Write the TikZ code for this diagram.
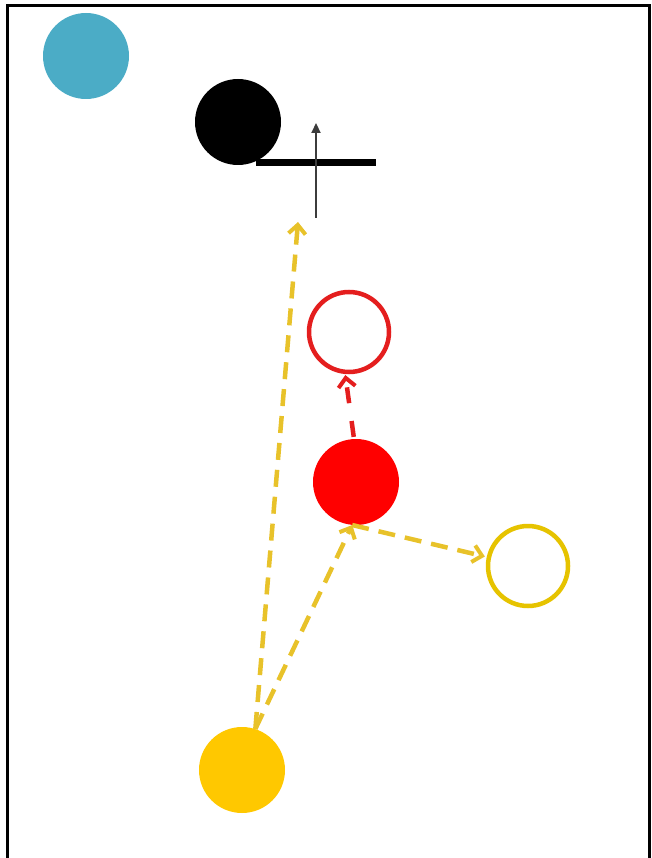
\documentclass[tikz,border=0pt]{standalone}
\usetikzlibrary{arrows.meta}
\definecolor{cblue}{HTML}{4BACC6}
\definecolor{cyellow}{HTML}{FFC800}
\definecolor{cyline}{HTML}{E8C22A}
\definecolor{cyopen}{HTML}{E6C300}
\definecolor{cred}{HTML}{FF0000}
\definecolor{credline}{HTML}{E41E1E}
\definecolor{cgray}{HTML}{3C3C3C}
\tikzset{
  dot/.style={circle, minimum size=86pt, inner sep=0pt, draw=none},
  ring/.style={circle, minimum size=80pt, inner sep=0pt, line width=4.5pt, fill=white},
  yarrow/.style={cyline, line width=4.5pt, dash pattern=on 17pt off 10pt, -{Straight Barb[length=9pt,width=17pt,line width=4pt]}},
  rarrow/.style={credline, line width=4.5pt, dash pattern=on 16pt off 18pt, -{Straight Barb[length=9pt,width=17pt,line width=4pt]}},
  garrow/.style={cgray, line width=2.2pt, -{Triangle[length=10pt,width=9pt]}},
}
\begin{document}
\begin{tikzpicture}[x=1pt,y=-1pt]
\useasboundingbox (0,0) rectangle (652,858);
\clip (0,0) rectangle (652,858);
\draw[line width=3pt] (7,880) -- (7,6) -- (649,6) -- (649,880);
% circles
\node[dot, fill=cblue] (blue) at (86,56) {};
\node[dot, fill=black] (blk) at (238,122) {};
\node[ring, draw=credline] (ro) at (349,332) {};
\node[dot, fill=cred] (rf) at (356,482) {};
\node[ring, draw=cyopen] (yo) at (528,566) {};
\node[dot, fill=cyellow] (yf) at (242,770) {};
% black bar and gray arrow
\coordinate (barL) at (256,163);
\coordinate (barR) at (376,163);
\draw[line width=7pt] (barL) -- (barR);
\coordinate (gS) at (316,218);
\coordinate (gE) at (316,123);
\draw[garrow] (gS) -- (gE);
% arrows
\coordinate (ytop) at (298,222);
\draw[yarrow] (yf.72) -- (ytop);
\draw[yarrow] (yf.72) -- (rf.265);
\draw[yarrow] (rf.265) -- ([xshift=-2pt]yo.167);
\draw[rarrow] ([yshift=2pt]rf.93) -- ([yshift=-1pt]ro.265);
\end{tikzpicture}
\end{document}
